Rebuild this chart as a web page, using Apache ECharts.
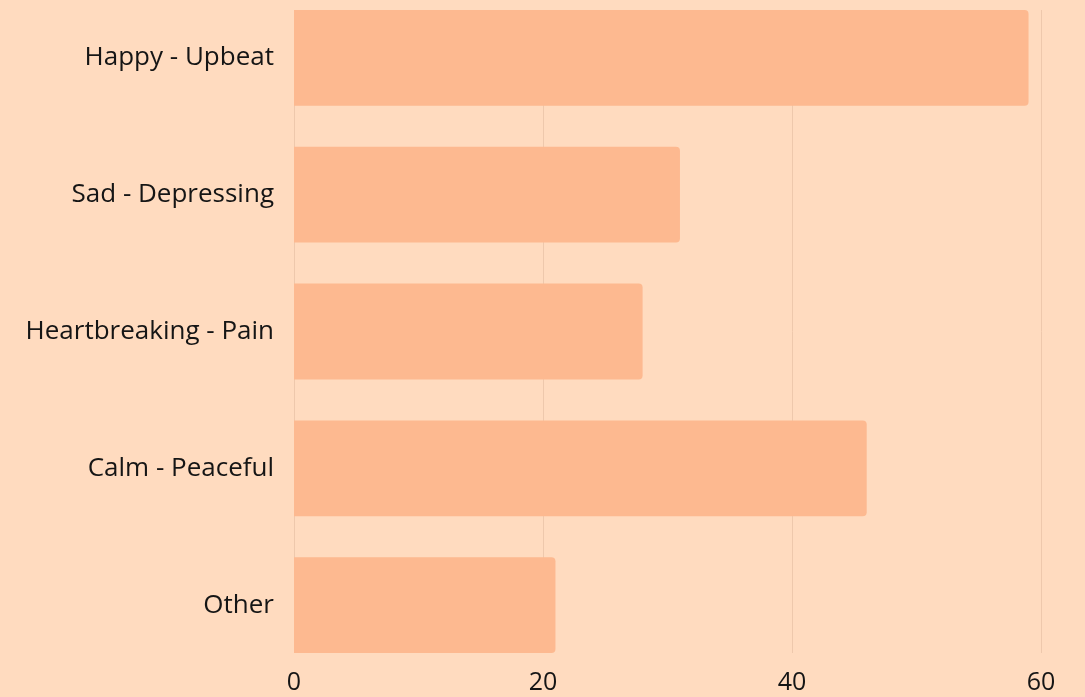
<!DOCTYPE html>
<html>
<head>
<meta charset="utf-8">
<script src="https://cdn.jsdelivr.net/npm/echarts@6/dist/echarts.min.js"></script>
<style>
    html, body { margin: 0; padding: 0; background: #FFDBBF; overflow: hidden; }
    /* 向上偏移 20px，使第一根条形能贴住网格顶部 */
    #chart { position: absolute; left: 0; top: -20px; width: 1085px; height: 717px; }
</style>
</head>
<body>
<div id="chart"></div>
<script>
var categories = ['Happy - Upbeat', 'Sad - Depressing', 'Heartbreaking - Pain', 'Calm - Peaceful', 'Other'];
var counts = [59, 31, 28, 46, 21];
var xTicks = [0, 20, 40, 60];

var myChart = echarts.init(document.getElementById('chart'));
var font = 'Open Sans';

var option = {
    backgroundColor: '#FFDBBF',
    animation: false,
    // grid 0: 条形图（上下各留半个间隔，使条形贴住网格线的上下端）
    // grid 1: 只画竖直网格线和刻度标签
    grid: [
        { left: 294, right: 44, top: 9.5, bottom: 23.5 },
        { left: 294, right: 44, top: 30, bottom: 44 }
    ],
    xAxis: [
        {
            gridIndex: 0, type: 'value', min: 0, max: 60, interval: 20,
            show: false
        },
        {
            gridIndex: 1, type: 'value', min: xTicks[0], max: xTicks[xTicks.length - 1], interval: 20,
            axisLine: { show: false },
            axisTick: { show: false },
            splitLine: { show: true, lineStyle: { color: '#EEC8AC', width: 1 } },
            axisLabel: { color: '#151515', fontSize: 25, fontFamily: font, margin: 17 }
        }
    ],
    yAxis: [
        {
            gridIndex: 0, type: 'category', inverse: true, data: categories,
            axisLine: { show: false },
            axisTick: { show: false },
            splitLine: { show: false },
            axisLabel: { color: '#151515', fontSize: 26, fontFamily: font, margin: 20, padding: [5, 0, 0, 0] }
        },
        {
            gridIndex: 1, type: 'value', min: 0, max: 1, show: false
        }
    ],
    series: [{
        type: 'bar',
        xAxisIndex: 0,
        yAxisIndex: 0,
        data: counts,
        barCategoryGap: '30%',
        itemStyle: { color: '#FDB990', borderRadius: [0, 4, 4, 0] },
        z: 3
    }]
};
myChart.setOption(option);
</script>
</body>
</html>
